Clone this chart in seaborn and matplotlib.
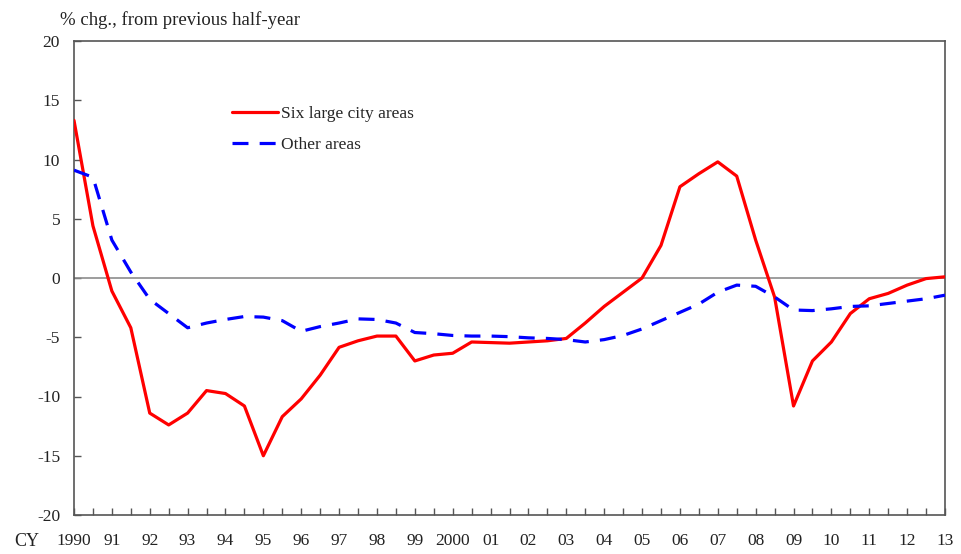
#!/usr/bin/env python3
import matplotlib

matplotlib.use("Agg")

import matplotlib.pyplot as plt
import numpy as np
import pandas as pd
import seaborn as sns

sns.set_theme(style="ticks")
plt.rcParams["font.family"] = ["Liberation Serif", "DejaVu Serif"]
plt.rcParams["axes.unicode_minus"] = False

# half-year periods, 1990 H1 .. 2013 H1
periods = np.arange(1990, 2013.01, 0.5)

six_large_city = [13.3, 4.4, -1.1, -4.2, -11.4, -12.4, -11.4, -9.5, -9.75, -10.8,
                  -15.0, -11.7, -10.2, -8.2, -5.85, -5.3, -4.9, -4.9, -7.0, -6.5,
                  -6.35, -5.4, -5.45, -5.5, -5.4, -5.3, -5.1, -3.8, -2.4, -1.2,
                  0.0, 2.75, 7.7, 8.8, 9.8, 8.6, 3.2, -1.6, -10.8, -7.0,
                  -5.4, -3.0, -1.75, -1.3, -0.6, -0.05, 0.1]
other_areas = [9.1, 8.5, 3.2, 0.5, -1.8, -3.0, -4.2, -3.8, -3.5, -3.25,
               -3.3, -3.6, -4.5, -4.1, -3.8, -3.45, -3.5, -3.8, -4.6, -4.7,
               -4.85, -4.9, -4.9, -4.95, -5.05, -5.1, -5.2, -5.4, -5.2, -4.85,
               -4.3, -3.6, -2.9, -2.2, -1.2, -0.6, -0.7, -1.6, -2.7, -2.75,
               -2.6, -2.4, -2.35, -2.15, -1.95, -1.75, -1.45]

year_labels = ["1990", "91", "92", "93", "94", "95", "96", "97", "98", "99",
               "2000", "01", "02", "03", "04", "05", "06", "07", "08", "09",
               "10", "11", "12", "13"]

df = pd.DataFrame({
    "period": np.concatenate([periods, periods]),
    "value": six_large_city + other_areas,
    "series": ["Six large city areas"] * len(periods) + ["Other areas"] * len(periods),
})

fig = plt.figure(figsize=(9.62, 5.54), dpi=100)
ax = fig.add_axes([74 / 962, 1 - 515 / 554, 871 / 962, 474 / 554])

ax.axhline(0, color="#8c8c8c", lw=1.2, zorder=1)

sns.lineplot(
    data=df, x="period", y="value", hue="series", style="series",
    palette={"Six large city areas": "#ff0000", "Other areas": "#0000ff"},
    dashes={"Six large city areas": "", "Other areas": (5, 3.5)},
    linewidth=2.3, ax=ax, zorder=3,
)

ax.set_xlim(1990, 2013)
ax.set_ylim(-20, 20)
ax.set_yticks(range(-20, 21, 5))
ax.set_xticks(range(1990, 2014))
ax.set_xticklabels(year_labels)
ax.set_xticks(periods, minor=True)
ax.set_xlabel("")
ax.set_ylabel("")

ax.tick_params(axis="y", direction="in", length=5, width=1, color="#555555",
               pad=10, labelsize=12.5, labelcolor="#222222")
ax.tick_params(axis="x", which="both", direction="in", length=5, width=1,
               color="#555555", pad=13, labelsize=12.5, labelcolor="#222222")
for s in ax.spines.values():
    s.set_color("#555555")
    s.set_linewidth(1.2)
    s.set_visible(True)

ax.legend(
    loc="upper left", bbox_to_anchor=(0.171, 0.882), frameon=False,
    handlelength=2.7, labelspacing=0.85, handletextpad=0.15, fontsize=12.5,
    borderpad=0,
)

fig.text(60 / 962, 1 - 20 / 554, "% chg., from previous half-year",
         ha="left", va="center", fontsize=13.5, color="#222222")
fig.text(14 / 962, 1 - 541 / 554, "CY", ha="left", va="center",
         fontsize=13, color="#222222")

fig.savefig("out.png", dpi=100)
